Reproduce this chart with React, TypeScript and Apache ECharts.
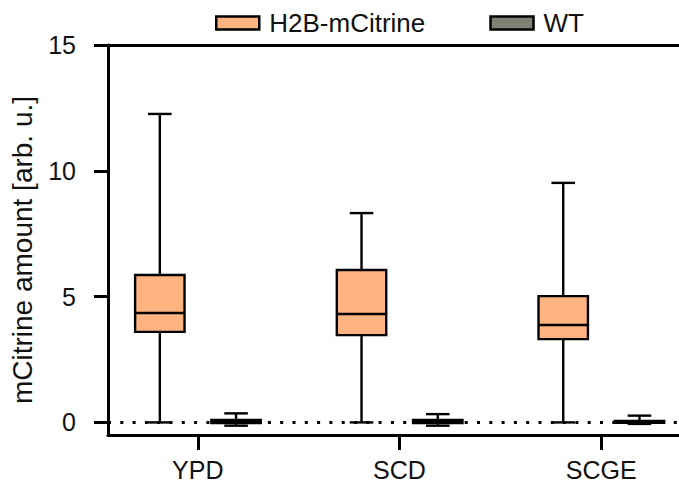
import React, { useEffect, useRef } from "react";
import * as echarts from "echarts";

const CATEGORIES = ["YPD", "SCD", "SCGE"];
const SERIES_NAMES = ["H2B-mCitrine", "WT"];
// [min, Q1, median, Q3, max] per category
const H2B_VALUES = [
  [0, 3.6, 4.35, 5.86, 12.26],
  [0, 3.47, 4.31, 6.06, 8.32],
  [0, 3.31, 3.87, 5.02, 9.52],
];
const WT_VALUES = [
  [-0.13, -0.03, 0.03, 0.1, 0.36],
  [-0.13, -0.03, 0.03, 0.1, 0.33],
  [-0.06, -0.02, 0.02, 0.06, 0.27],
];
const Y_TICKS = [0, 5, 10, 15];
const ZERO_LINE = 0;

const FONT = "'Liberation Sans', Arial, Helvetica, sans-serif";
const COLORS = ["#FFB380", "#7E8275"];
const OFFSETS = [-0.188, 0.19];
const BOX_FRAC = 0.245;
const CAP_FRAC = 0.117;
const LW = 2.4;

function makeRender(offset: number, fill: string) {
  return (params: any, api: any) => {
    const x = api.value(0) + offset;
    const vals = [api.value(1), api.value(2), api.value(3), api.value(4), api.value(5)];
    const pts = vals.map((v) => api.coord([x, v]));
    const unit = api.size([1, 0])[0];
    const cx = pts[0][0];
    const hb = (unit * BOX_FRAC) / 2;
    const hc = (unit * CAP_FRAC) / 2;
    const [pMin, pQ1, pMed, pQ3, pMax] = pts.map((p: number[]) => p[1]);
    const ls = { stroke: "#000", lineWidth: LW };
    return {
      type: "group",
      children: [
        { type: "line", shape: { x1: cx, y1: pMin, x2: cx, y2: pQ1 }, style: ls },
        { type: "line", shape: { x1: cx, y1: pQ3, x2: cx, y2: pMax }, style: ls },
        { type: "line", shape: { x1: cx - hc, y1: pMin, x2: cx + hc, y2: pMin }, style: ls },
        { type: "line", shape: { x1: cx - hc, y1: pMax, x2: cx + hc, y2: pMax }, style: ls },
        {
          type: "rect",
          shape: { x: cx - hb, y: pQ3, width: hb * 2, height: Math.max(pQ1 - pQ3, 0.5) },
          style: { fill, stroke: "#000", lineWidth: LW },
        },
        { type: "line", shape: { x1: cx - hb, y1: pMed, x2: cx + hb, y2: pMed }, style: ls },
      ],
    };
  };
}

export default function App() {
  const ref = useRef<HTMLDivElement>(null);
  useEffect(() => {
    if (!ref.current) return;
    const chart = echarts.init(ref.current, null, { renderer: "svg" });
    const xIdx = CATEGORIES.map((_, i) => i);
    const toData = (arr: number[][]) => arr.map((v, i) => [xIdx[i], ...v]);
    const axisLineStyle = { color: "#000", width: 3 };
    const option: any = {
      animation: false,
      textStyle: { fontFamily: FONT, color: "#000" },
      grid: { left: 100, right: 0, top: 45, bottom: 50 },
      legend: {
        left: 210,
        top: 5,
        itemWidth: 43,
        itemHeight: 13,
        itemGap: 64,
        textStyle: { fontSize: 26, fontFamily: FONT, color: "#111", padding: [0, 0, 0, 5] },
        data: SERIES_NAMES.map((n, i) => ({
          name: n,
          icon: "rect",
          itemStyle: { color: COLORS[i], borderColor: "#000", borderWidth: 2.5 },
        })),
      },
      xAxis: [
        {
          type: "value",
          min: -0.445,
          max: 2.386,
          splitLine: { show: false },
          axisLine: { show: true, onZero: false, lineStyle: axisLineStyle },
          axisTick: { show: true, length: 15, customValues: xIdx, lineStyle: axisLineStyle },
          axisLabel: {
            customValues: xIdx,
            formatter: (v: number) => CATEGORIES[Math.round(v)] ?? "",
            fontSize: 25,
            fontFamily: FONT,
            color: "#111",
            margin: 22,
          },
        },
        {
          type: "value",
          position: "top",
          min: -0.445,
          max: 2.386,
          splitLine: { show: false },
          axisLine: { show: true, onZero: false, lineStyle: axisLineStyle },
          axisTick: { show: false },
          axisLabel: { show: false },
        },
      ],
      yAxis: {
        type: "value",
        min: -0.5,
        max: 15,
        name: "mCitrine amount [arb. u.]",
        nameLocation: "middle",
        nameGap: 72,
        nameTextStyle: { fontSize: 28, fontFamily: FONT, color: "#111", padding: [0, 20, 0, 0] },
        splitLine: { show: false },
        axisLine: { show: true, onZero: false, lineStyle: axisLineStyle },
        axisTick: { show: true, length: 14, customValues: Y_TICKS, lineStyle: axisLineStyle },
        axisLabel: { customValues: Y_TICKS, fontSize: 25, fontFamily: FONT, color: "#111", margin: 32 },
      },
      series: [
        {
          name: SERIES_NAMES[0],
          type: "custom",
          xAxisIndex: 0,
          itemStyle: { color: COLORS[0], borderColor: "#000", borderWidth: 2.5 },
          renderItem: makeRender(OFFSETS[0], COLORS[0]),
          encode: { x: 0, y: [1, 2, 3, 4, 5] },
          data: toData(H2B_VALUES),
          z: 3,
          markLine: {
            silent: true,
            symbol: "none",
            label: { show: false },
            lineStyle: { color: "#000", width: 3, type: [3, 9.3] },
            data: [{ yAxis: ZERO_LINE }],
            z: 1,
          },
        },
        {
          name: SERIES_NAMES[1],
          type: "custom",
          xAxisIndex: 0,
          itemStyle: { color: COLORS[1], borderColor: "#000", borderWidth: 2.5 },
          renderItem: makeRender(OFFSETS[1], COLORS[1]),
          encode: { x: 0, y: [1, 2, 3, 4, 5] },
          data: toData(WT_VALUES),
          z: 3,
        },
      ],
    };
    chart.setOption(option);
    return () => chart.dispose();
  }, []);
  return (
    <div
      ref={ref}
      style={{ position: "fixed", left: 0, top: 0, width: 679, height: 485, background: "#fff" }}
    />
  );
}
